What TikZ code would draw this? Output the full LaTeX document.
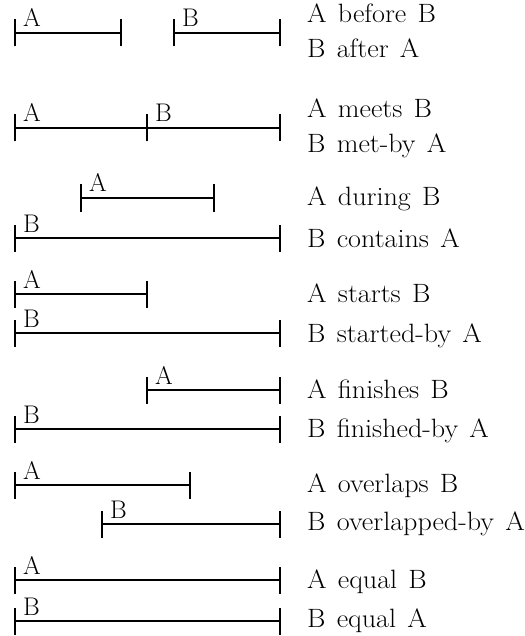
\documentclass[tikz,border=0pt]{standalone}
\newcommand\relfont{\fontsize{26.5}{30}\selectfont\spaceskip=10.6pt plus 2pt minus 2pt\relax}
\begin{document}
\begin{tikzpicture}[x=1pt,y=-1pt,
  thinline/.style={line width=1.7pt},
  thickline/.style={line width=2.4pt},
  tick/.style={line width=2pt},
  endtick/.style={line width=2.8pt},
  lab/.style={anchor=base west,inner sep=0pt,font=\fontsize{25.5}{30}\selectfont},
  rel/.style={anchor=base west,inner sep=0pt,xscale=1.06,transform shape}]
\useasboundingbox (0,0) rectangle (524,636);
% interval macro: name, x1, x2, y, line style, label, end tick style
\newcommand\ivl[7]{%
  \coordinate (#1s) at (#2,#4);
  \coordinate (#1e) at (#3,#4);
  \draw[#5] (#1s) -- (#1e);
  \draw[tick] ([yshift=-13.5pt]#1s) -- ([yshift=13.5pt]#1s);
  \draw[#7] ([yshift=-13.5pt]#1e) -- ([yshift=13.5pt]#1e);
  \node[lab] (#1l) at ([xshift=8pt,yshift=6pt]#1s) {#6};}
% before / after
\ivl{i1a}{15}{121}{33}{thinline}{A}{tick}
\ivl{i1b}{174}{280}{33}{thinline}{B}{endtick}
\node[rel] (r1a) at (307,23) {\relfont A before B};
\node[rel] (r1b) at (307,58) {\relfont B after A};
% meets
\ivl{i2a}{15}{147}{128}{thinline}{A}{tick}
\ivl{i2b}{147}{280}{128}{thinline}{B}{endtick}
\node[rel] (r2a) at (307,118) {\relfont A meets B};
\node[rel] (r2b) at (307,153) {\relfont B met-by A};
% during
\ivl{i3a}{81}{214}{198}{thickline}{A}{tick}
\ivl{i3b}{15}{280}{238}{thinline}{B}{endtick}
\node[rel] (r3a) at (307,205) {\relfont A during B};
\node[rel] (r3b) at (307,247) {\relfont B contains A};
% starts
\ivl{i4a}{15}{147}{294}{thinline}{A}{tick}
\ivl{i4b}{15}{280}{333}{thickline}{B}{endtick}
\node[rel] (r4a) at (307,302) {\relfont A starts B};
\node[rel] (r4b) at (307,342) {\relfont B started-by A};
% finishes
\ivl{i5a}{147}{280}{390}{thinline}{A}{endtick}
\ivl{i5b}{15}{280}{429}{thickline}{B}{endtick}
\node[rel] (r5a) at (307,398) {\relfont A finishes B};
\node[rel] (r5b) at (307,437) {\relfont B finished-by A};
% overlaps
\ivl{i6a}{15}{190}{485}{thinline}{A}{tick}
\ivl{i6b}{102}{280}{524}{thinline}{B}{endtick}
\node[rel] (r6a) at (307,492) {\relfont A overlaps B};
\node[rel] (r6b) at (307,530) {\relfont B overlapped-by A};
% equal
\ivl{i7a}{15}{280}{580}{thickline}{A}{endtick}
\ivl{i7b}{15}{280}{621}{thinline}{B}{endtick}
\node[rel] (r7a) at (307,588) {\relfont A equal B};
\node[rel] (r7b) at (307,627) {\relfont B equal A};
\end{tikzpicture}
\end{document}
